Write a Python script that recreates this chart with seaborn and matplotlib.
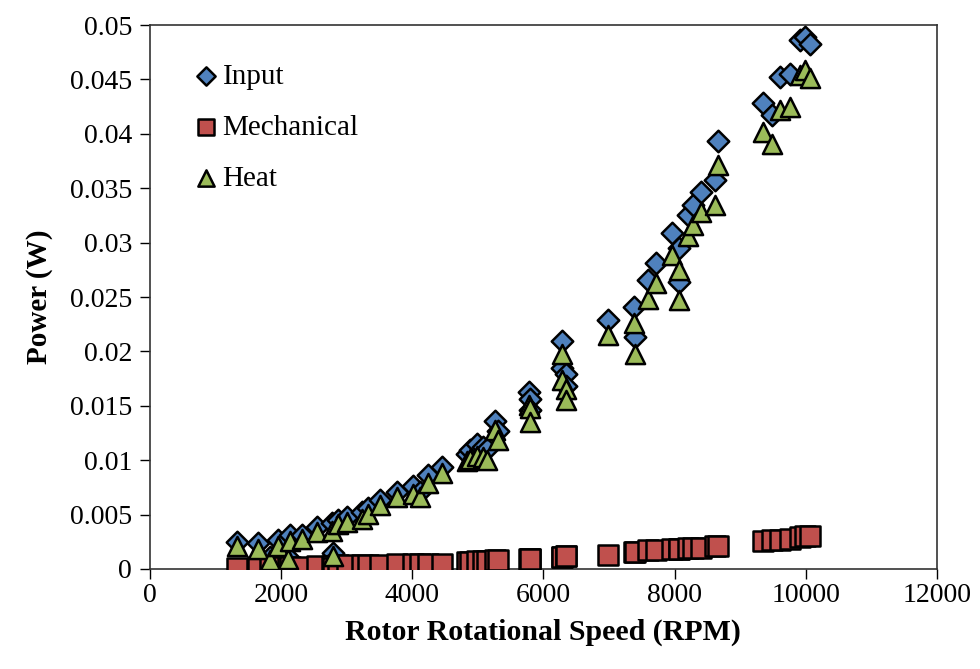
import matplotlib
matplotlib.use("Agg")
import matplotlib.pyplot as plt
import seaborn as sns
import pandas as pd

rpm = [1330, 1650, 1830, 1950, 2110, 2135, 2320, 2550, 2780, 2790, 2870, 3005,
       3235, 3330, 3510, 3770, 4010, 4120, 4240, 4450, 4830, 4880, 4990, 5080,
       5140, 5260, 5310, 5780, 5790, 5800, 6280, 6290, 6340, 6350, 6980, 7380,
       7390, 7600, 7720, 7960, 8060, 8070, 8200, 8280, 8400, 8620, 8660, 9350,
       9480, 9610, 9760, 9910, 9990, 10060]
input_w = [0.0025, 0.0024, 0.0011, 0.0027, 0.0011, 0.0031, 0.0031, 0.0039, 0.0042, 0.0015, 0.0045, 0.0048,
           0.0052, 0.0056, 0.0063, 0.0071, 0.0076, 0.0071, 0.0086, 0.0094, 0.0106, 0.0109, 0.0115, 0.0112,
           0.0110, 0.0136, 0.0127, 0.0163, 0.0156, 0.0146, 0.0210, 0.0185, 0.0179, 0.0168, 0.0229, 0.0241,
           0.0213, 0.0266, 0.0281, 0.0309, 0.0295, 0.0264, 0.0325, 0.0335, 0.0347, 0.0358, 0.0393, 0.0428,
           0.0417, 0.0452, 0.0455, 0.0486, 0.0489, 0.0483]
mech_w = [0.0001, 0.0002, 0.0001, 0.0002, 0.0001, 0.0002, 0.0002, 0.0003, 0.0003, 0.0001, 0.0004, 0.0004,
          0.0004, 0.0004, 0.0004, 0.0005, 0.0005, 0.0005, 0.0005, 0.0005, 0.0006, 0.0006, 0.0007, 0.0007,
          0.0007, 0.0008, 0.0008, 0.0009, 0.0009, 0.0009, 0.0011, 0.0011, 0.0012, 0.0012, 0.0013, 0.0016,
          0.0016, 0.0017, 0.0017, 0.0018, 0.0018, 0.0018, 0.0019, 0.0019, 0.0019, 0.0021, 0.0021, 0.0026,
          0.0027, 0.0027, 0.0028, 0.0029, 0.0030, 0.0030]
heat_w = [0.0021, 0.0018, 0.0008, 0.0021, 0.0009, 0.0026, 0.0028, 0.0034, 0.0035, 0.0012, 0.0041, 0.0043,
          0.0046, 0.0051, 0.0059, 0.0066, 0.0069, 0.0066, 0.0079, 0.0088, 0.0099, 0.0101, 0.0104, 0.0103,
          0.0100, 0.0128, 0.0119, 0.0151, 0.0148, 0.0135, 0.0198, 0.0174, 0.0165, 0.0155, 0.0215, 0.0226,
          0.0198, 0.0248, 0.0263, 0.0289, 0.0275, 0.0247, 0.0306, 0.0316, 0.0328, 0.0335, 0.0371, 0.0402,
          0.0391, 0.0422, 0.0425, 0.0454, 0.0459, 0.0451]

x_ticks = [0, 2000, 4000, 6000, 8000, 10000, 12000]
y_ticks = [0, 0.005, 0.01, 0.015, 0.02, 0.025, 0.03, 0.035, 0.04, 0.045, 0.05]
y_tick_labels = ["0", "0.005", "0.01", "0.015", "0.02", "0.025", "0.03", "0.035", "0.04", "0.045", "0.05"]

df = pd.DataFrame({"rpm": rpm, "Input": input_w, "Mechanical": mech_w, "Heat": heat_w})

sns.set_theme(style="ticks")
plt.rcParams["font.family"] = ["Liberation Serif", "DejaVu Serif"]
plt.rcParams["text.color"] = "black"
plt.rcParams["axes.labelcolor"] = "black"

fig = plt.figure(figsize=(9.8, 6.69), dpi=100)
ax = fig.add_axes([0.153, 0.1495, 0.803, 0.813])

series = [("Input", "D", "#4F81BD", 120),
          ("Mechanical", "s", "#C0504D", 190),
          ("Heat", "^", "#9BBB59", 190)]
for name, mk, col, sz in series:
    sns.scatterplot(data=df, x="rpm", y=name, ax=ax, marker=mk, color=col, s=sz,
                    edgecolor="black", linewidth=1.8, label=name, zorder=3)

ax.set_xlim(0, 12000)
ax.set_ylim(0, 0.05)
ax.set_xticks(x_ticks)
ax.set_xticklabels([str(t) for t in x_ticks])
ax.set_yticks(y_ticks)
ax.set_yticklabels(y_tick_labels)
ax.tick_params(axis="both", direction="out", length=7, width=1, labelsize=20, colors="black")
ax.tick_params(axis="x", pad=3)
ax.tick_params(axis="y", pad=6)
for sp in ax.spines.values():
    sp.set_color("#333333")
    sp.set_linewidth(1.2)
    sp.set_visible(True)

ax.set_xlabel("Rotor Rotational Speed (RPM)", fontsize=21.5, fontweight="bold", labelpad=8)
ax.set_ylabel("Power (W)", fontsize=21, fontweight="bold", labelpad=12)

leg = ax.legend(loc="upper left", bbox_to_anchor=(0.018, 0.978), frameon=False, fontsize=21,
                markerscale=0.85, handletextpad=0.0, labelspacing=0.85, handlelength=1.1)

fig.savefig("out.png", dpi=100)
